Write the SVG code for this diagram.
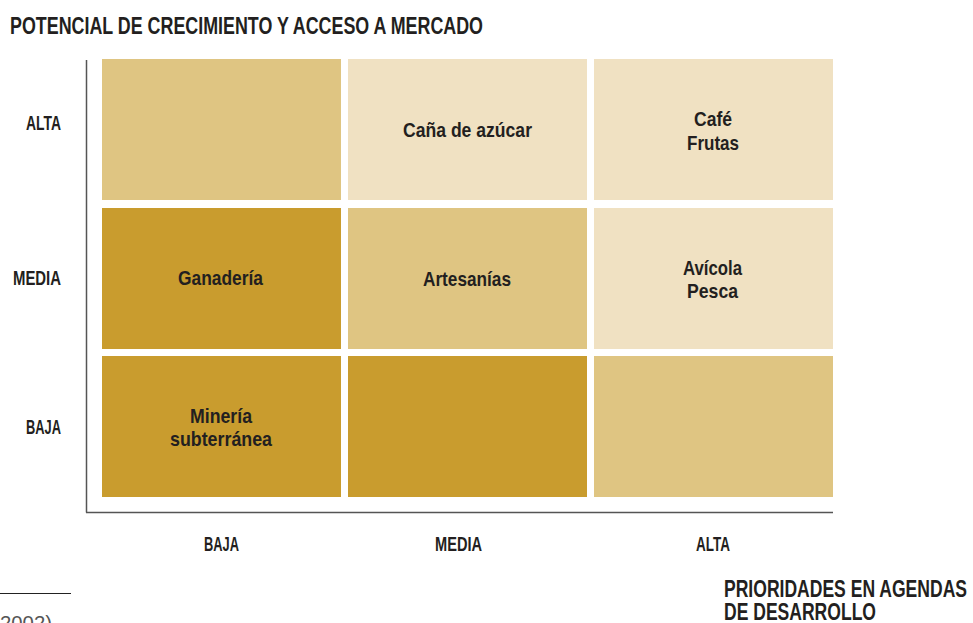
<svg xmlns="http://www.w3.org/2000/svg" width="973" height="623" viewBox="0 0 973 623">
  <style>
    .t { font-family: "Liberation Sans Narrow", "Liberation Sans", "DejaVu Sans Condensed", Arial, sans-serif; font-weight: bold; fill: #231f20; }
    .h { font-size: 24px; }
    .hx { font-size: 23px; }
    .ax { font-size: 20px; }
    .c { font-size: 21px; text-anchor: middle; }
    .lt { fill: #F0E1C2; }
    .md { fill: #DFC582; }
    .dk { fill: #C99C2E; }
    .axis { stroke: #555; stroke-width: 1.5; fill: none; }
    .note { font-family: "Liberation Sans", Arial, sans-serif; font-size: 20px; fill: #555; }
  </style>
  <rect width="973" height="623" fill="#ffffff"/>

  <text class="t h" x="10" y="34" textLength="473" lengthAdjust="spacingAndGlyphs">POTENCIAL DE CRECIMIENTO Y ACCESO A MERCADO</text>

  <g id="axes">
    <line class="axis" x1="86.5" y1="60" x2="86.5" y2="512.5"/>
    <line class="axis" x1="86" y1="512.5" x2="833" y2="512.5"/>
  </g>

  <g id="row-labels">
    <text class="t ax" x="26" y="130" textLength="35" lengthAdjust="spacingAndGlyphs">ALTA</text>
    <text class="t ax" x="13" y="285" textLength="48" lengthAdjust="spacingAndGlyphs">MEDIA</text>
    <text class="t ax" x="26" y="434" textLength="35" lengthAdjust="spacingAndGlyphs">BAJA</text>
  </g>

  <g id="col-labels">
    <text class="t ax" x="204" y="551" textLength="35" lengthAdjust="spacingAndGlyphs">BAJA</text>
    <text class="t ax" x="435" y="551" textLength="47" lengthAdjust="spacingAndGlyphs">MEDIA</text>
    <text class="t ax" x="696" y="551" textLength="34" lengthAdjust="spacingAndGlyphs">ALTA</text>
  </g>

  <g id="cell-r1c1"><rect class="md" x="102" y="59" width="239" height="141"/></g>
  <g id="cell-r1c2"><rect class="lt" x="348" y="59" width="239" height="141"/>
    <text class="t c" x="467.5" y="137" textLength="129" lengthAdjust="spacingAndGlyphs">Caña de azúcar</text></g>
  <g id="cell-r1c3"><rect class="lt" x="594" y="59" width="239" height="141"/>
    <text class="t c" x="713" y="126" textLength="38" lengthAdjust="spacingAndGlyphs">Café</text>
    <text class="t c" x="713" y="150" textLength="52" lengthAdjust="spacingAndGlyphs">Frutas</text></g>

  <g id="cell-r2c1"><rect class="dk" x="102" y="208" width="239" height="141"/>
    <text class="t c" x="220.5" y="285" textLength="85" lengthAdjust="spacingAndGlyphs">Ganadería</text></g>
  <g id="cell-r2c2"><rect class="md" x="348" y="208" width="239" height="141"/>
    <text class="t c" x="467" y="286" textLength="88" lengthAdjust="spacingAndGlyphs">Artesanías</text></g>
  <g id="cell-r2c3"><rect class="lt" x="594" y="208" width="239" height="141"/>
    <text class="t c" x="712.5" y="275" textLength="59" lengthAdjust="spacingAndGlyphs">Avícola</text>
    <text class="t c" x="712.5" y="298" textLength="51" lengthAdjust="spacingAndGlyphs">Pesca</text></g>

  <g id="cell-r3c1"><rect class="dk" x="102" y="356" width="239" height="141"/>
    <text class="t c" x="221" y="423" textLength="62" lengthAdjust="spacingAndGlyphs">Minería</text>
    <text class="t c" x="221" y="446" textLength="102" lengthAdjust="spacingAndGlyphs">subterránea</text></g>
  <g id="cell-r3c2"><rect class="dk" x="348" y="356" width="239" height="141"/></g>
  <g id="cell-r3c3"><rect class="md" x="594" y="356" width="239" height="141"/></g>

  <g id="connectors"></g>

  <g id="x-title">
    <text class="t hx" x="724" y="597" textLength="243" lengthAdjust="spacingAndGlyphs">PRIORIDADES EN AGENDAS</text>
    <text class="t hx" x="724" y="620" textLength="152" lengthAdjust="spacingAndGlyphs">DE DESARROLLO</text>
  </g>

  <g id="footnote">
    <line x1="0" y1="593.5" x2="71" y2="593.5" stroke="#222" stroke-width="1"/>
    <text class="note" x="0" y="630" textLength="52" lengthAdjust="spacingAndGlyphs">2002)</text>
  </g>
</svg>
